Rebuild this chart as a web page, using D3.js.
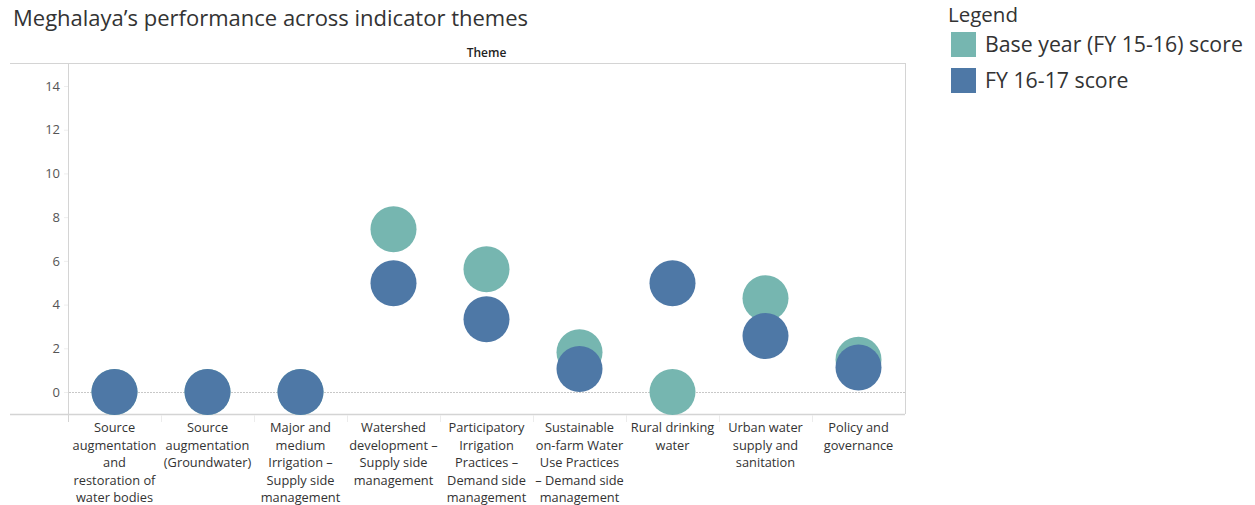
<!DOCTYPE html>
<html>
<head>
<meta charset="utf-8">
<script src="https://cdn.jsdelivr.net/npm/d3@7"></script>
<style>
  body { margin: 0; background: #fff; font-family: "Open Sans", sans-serif; }
  text { font-family: "Open Sans", sans-serif; }
</style>
</head>
<body>
<div id="chart"></div>
<script>
var themes = [
  ["Source", "augmentation", "and", "restoration of", "water bodies"],
  ["Source", "augmentation", "(Groundwater)"],
  ["Major and", "medium", "Irrigation \u2013", "Supply side", "management"],
  ["Watershed", "development \u2013", "Supply side", "management"],
  ["Participatory", "Irrigation", "Practices \u2013", "Demand side", "management"],
  ["Sustainable", "on-farm Water", "Use Practices", "\u2013 Demand side", "management"],
  ["Rural drinking", "water"],
  ["Urban water", "supply and", "sanitation"],
  ["Policy and", "governance"]
];
var baseScores = [0, 0, 0, 7.45, 5.62, 1.82, 0, 4.29, 1.48];
var fy1617Scores = [0, 0, 0, 4.98, 3.33, 1.05, 4.98, 2.56, 1.12];
var yTicks = [0, 2, 4, 6, 8, 10, 12, 14];
var seriesNames = ["Base year (FY 15-16) score", "FY 16-17 score"];
var seriesColors = ["#76b6b0", "#4e78a6"];

var width = 1255, height = 505;
var plot = {left: 68, right: 905, top: 63, bottom: 414};

var svg = d3.select("#chart").append("svg")
    .attr("width", width)
    .attr("height", height);

var xScale = d3.scaleBand()
    .domain(d3.range(themes.length))
    .range([plot.left, plot.right]);

var yScale = d3.scaleLinear()
    .domain([0, 14])
    .range([392, 86]);

// title
svg.append("text")
    .attr("x", 13)
    .attr("y", 26)
    .attr("font-size", 22)
    .attr("fill", "#333")
    .text("Meghalaya\u2019s performance across indicator themes");

svg.append("text")
    .attr("x", (plot.left + plot.right) / 2)
    .attr("y", 57)
    .attr("text-anchor", "middle")
    .attr("font-size", 12)
    .attr("font-weight", 600)
    .attr("fill", "#222")
    .text("Theme");

// frame
svg.append("line")
    .attr("x1", 10).attr("x2", plot.right)
    .attr("y1", plot.top + 0.5).attr("y2", plot.top + 0.5)
    .attr("stroke", "#d4d4d4");
svg.append("line")
    .attr("x1", 10).attr("x2", plot.right)
    .attr("y1", plot.bottom + 0.5).attr("y2", plot.bottom + 0.5)
    .attr("stroke", "#d4d4d4").attr("stroke-width", 1.5);
svg.append("line")
    .attr("x1", plot.right + 0.5).attr("x2", plot.right + 0.5)
    .attr("y1", plot.top).attr("y2", plot.bottom)
    .attr("stroke", "#d4d4d4");
svg.append("line")
    .attr("x1", plot.left + 0.5).attr("x2", plot.left + 0.5)
    .attr("y1", plot.top).attr("y2", plot.bottom + 8)
    .attr("stroke", "#d4d4d4");

// column separators below axis
svg.append("g").selectAll("line")
    .data(d3.range(1, themes.length))
    .enter().append("line")
    .attr("x1", function(d) { return Math.round(xScale(d)) + 0.5; })
    .attr("x2", function(d) { return Math.round(xScale(d)) + 0.5; })
    .attr("y1", plot.bottom + 1).attr("y2", plot.bottom + 8)
    .attr("stroke", "#ececec");

// y axis
var yAxis = d3.axisLeft(yScale).tickValues(yTicks).tickSize(4).tickPadding(4);
var yg = svg.append("g")
    .attr("transform", "translate(" + plot.left + ",0)")
    .call(yAxis);
yg.select(".domain").remove();
yg.selectAll(".tick line").attr("stroke", "#eee");
yg.selectAll(".tick text")
    .attr("font-size", 13)
    .attr("fill", "#555")
    .attr("font-family", "'Open Sans', sans-serif");

// zero line
svg.append("line")
    .attr("x1", plot.left + 1).attr("x2", plot.right)
    .attr("y1", yScale(0) + 0.5).attr("y2", yScale(0) + 0.5)
    .attr("stroke", "#c8c8c8")
    .attr("stroke-dasharray", "2,1");

// x labels
var xl = svg.append("g").selectAll("text")
    .data(themes)
    .enter().append("text")
    .attr("text-anchor", "middle")
    .attr("font-size", 12.8)
    .attr("fill", "#333")
    .attr("transform", function(d, i) {
      return "translate(" + (xScale(i) + xScale.bandwidth() / 2) + ",432)";
    });
xl.selectAll("tspan")
    .data(function(d) { return d; })
    .enter().append("tspan")
    .attr("x", 0)
    .attr("y", function(d, i) { return i * 17.6; })
    .text(function(d) { return d; });

// circles: base year first, then FY 16-17 on top
var series = [baseScores, fy1617Scores];
series.forEach(function(vals, s) {
  svg.append("g").selectAll("circle")
      .data(vals)
      .enter().append("circle")
      .attr("cx", function(d, i) { return xScale(i) + xScale.bandwidth() / 2; })
      .attr("cy", function(d) { return yScale(d); })
      .attr("r", 23)
      .attr("fill", seriesColors[s]);
});

// legend
svg.append("text")
    .attr("x", 948)
    .attr("y", 22)
    .attr("font-size", 20.5)
    .attr("fill", "#333")
    .text("Legend");

var lg = svg.append("g").selectAll("g")
    .data(seriesNames)
    .enter().append("g")
    .attr("transform", function(d, i) { return "translate(951," + (32 + i * 36) + ")"; });
lg.append("rect")
    .attr("width", 25).attr("height", 25)
    .attr("fill", function(d, i) { return seriesColors[i]; });
lg.append("text")
    .attr("x", 34)
    .attr("y", 19.5)
    .attr("font-size", 21.3)
    .attr("fill", "#333")
    .text(function(d) { return d; });
</script>
</body>
</html>
